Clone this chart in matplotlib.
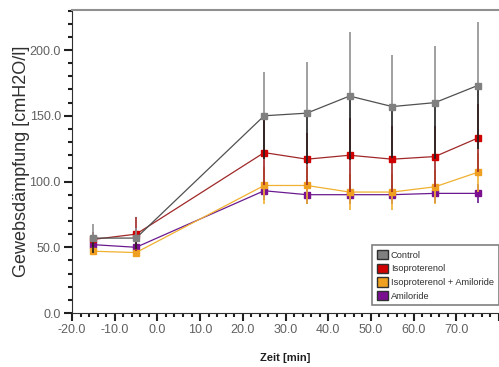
import matplotlib
matplotlib.use("Agg")
import matplotlib.pyplot as plt
from matplotlib.patches import Patch
from matplotlib.ticker import MultipleLocator, FuncFormatter, FormatStrFormatter

plt.rcParams['font.family'] = ['Liberation Sans', 'DejaVu Sans']

zeit = [-15, -5, 25, 35, 45, 55, 65, 75]

control = [57, 57, 150, 152, 165, 157, 160, 173]
control_err = [11, 8, 33, 39, 49, 39, 43, 48]
iso = [56, 60, 122, 117, 120, 117, 119, 133]
iso_err = [6, 13, 25, 20, 28, 25, 23, 26]
iso_amil = [47, 46, 97, 97, 92, 92, 96, 107]
iso_amil_err = [3, 3, 14, 14, 14, 14, 13, 15]
amil = [52, 50, 93, 90, 90, 90, 91, 91]
amil_err = [4, 4, 7, 7, 7, 7, 7, 7]

names = ['Control', 'Isoproterenol', 'Isoproterenol + Amiloride', 'Amiloride']
marker_cols = ['#808080', '#d00000', '#f0a020', '#7a1090']
line_cols = ['#505050', '#a02828', '#f0b030', '#6a1a90']

fig = plt.figure(figsize=(4.99, 3.67), dpi=100)
ax = fig.add_axes([0.1443, 0.147, 0.8557, 0.826])

series = [(control, control_err), (iso, iso_err), (iso_amil, iso_amil_err), (amil, amil_err)]
for i, (vals, err) in enumerate(series):
    z = 10 - i
    # lower half darker, upper half in series colour
    ax.errorbar(zeit, vals, yerr=[err, [0] * len(err)], fmt='none',
                ecolor='#202020' if i == 0 else line_cols[i], elinewidth=1.2, capsize=0, zorder=z)
    ax.errorbar(zeit, vals, yerr=[[0] * len(err), err], fmt='none',
                ecolor='#909090' if i == 0 else line_cols[i], elinewidth=1.2, capsize=0, zorder=z)
    ax.plot(zeit, vals, color=line_cols[i], lw=0.9, zorder=z + 0.5)
    ax.plot(zeit, vals, ls='none', marker='s', ms=5, mfc=marker_cols[i],
            mec=marker_cols[i], zorder=z + 0.6)

ax.set_xlim(-20, 80)
ax.set_ylim(0, 230.5)
ax.xaxis.set_major_locator(MultipleLocator(10))
ax.xaxis.set_minor_locator(MultipleLocator(2))
ax.yaxis.set_major_locator(MultipleLocator(50))
ax.yaxis.set_minor_locator(MultipleLocator(10))
ax.xaxis.set_major_formatter(FuncFormatter(lambda v, p: '' if v > 75 else '%.1f' % v))
ax.yaxis.set_major_formatter(FormatStrFormatter('%.1f'))
ax.tick_params(which='major', length=6, width=1.5, colors='#202020', labelcolor='#606060',
               labelsize=9, pad=2)
ax.tick_params(which='minor', length=3, width=1.5, colors='#202020')

ax.spines['right'].set_visible(False)
ax.spines['top'].set_color('#909090')
ax.spines['top'].set_linewidth(1.5)
ax.spines['left'].set_color('#303030')
ax.spines['bottom'].set_color('#303030')

ax.set_ylabel('Gewebsdämpfung [cmH2O/l]', fontsize=13, color='#303030', labelpad=0)
ax.set_xlabel('Zeit [min]', fontsize=8, fontweight='bold', color='#202020', labelpad=12)

handles = [Patch(facecolor=c, edgecolor='#303030') for c in marker_cols]
leg = ax.legend(handles, names, loc='lower right', bbox_to_anchor=(1.01, 0.01),
                fontsize=6.7, frameon=True, fancybox=False, handlelength=1.2,
                handleheight=1.2, handletextpad=0.3, labelspacing=0.4, borderpad=0.5)
leg.get_frame().set_edgecolor('#606060')
leg.get_frame().set_linewidth(1.2)
for t in leg.get_texts():
    t.set_color('#303030')

fig.savefig('out.png', dpi=100)
